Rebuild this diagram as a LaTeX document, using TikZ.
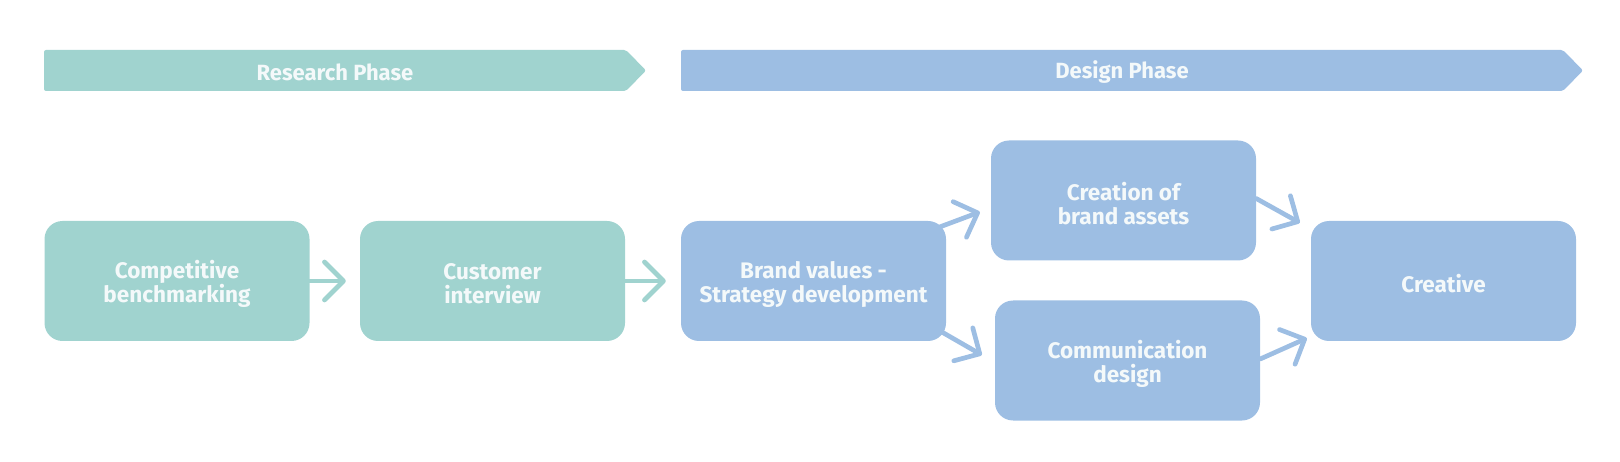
\documentclass[tikz,border=0pt]{standalone}
\usepackage{fontspec}
\setmainfont{Fira Sans}
\usetikzlibrary{arrows.meta}
\definecolor{teal}{RGB}{160,211,207}
\definecolor{blu}{RGB}{157,190,227}
\definecolor{txt}{RGB}{244,249,250}
\tikzset{
  box/.style={rectangle, rounded corners=18, minimum width=265, minimum height=120, inner sep=0pt},
  boxtext/.style={text=txt, font=\fontsize{22.5}{24}\selectfont\bfseries, align=center, inner sep=0pt, yshift=-3},
  tbox/.style={box, fill=teal},
  bbox/.style={box, fill=blu},
  arr/.style={line width=4.7, line cap=round, -{Straight Barb[length=19, width=38, round]}},
  banner/.style={rounded corners=2, draw=none},
  btext/.style={text=txt, font=\fontsize{22}{24}\selectfont\bfseries, inner sep=0pt},
}
\begin{document}
\begin{tikzpicture}[x=1pt, y=-1pt]
\useasboundingbox (0,0) rectangle (1620,462);
% banners
\fill[teal, banner] (44,50) -- (626,50) -- (646,70.5) -- (626,91) -- (44,91) -- cycle;
\fill[blu, banner] (681,50) -- (1563,50) -- (1583,70.5) -- (1563,91) -- (681,91) -- cycle;
\node[btext] (rp) at (335,72.5) {Research Phase};
\node[btext] (dp) at (1122,72.5) {Design Phase};
% boxes
\node[tbox, label={[boxtext]center:Competitive\\benchmarking}] (b1) at (177,281) {};
\node[tbox, label={[boxtext]center:Customer\\interview}] (b2) at (492.5,281) {};
\node[bbox, label={[boxtext]center:Brand values -\\Strategy development}] (b3) at (813.5,281) {};
\node[bbox, label={[boxtext]center:Creation of\\brand assets}] (b4) at (1123.5,200.5) {};
\node[bbox, label={[boxtext]center:Communication\\design}] (b5) at (1127.5,360.5) {};
\node[bbox, label={[boxtext]center:Creative}] (b6) at (1443.5,281) {};
% arrows
\draw[arr, teal] (b1.east) -- ([xshift=-14]b2.west);
\draw[arr, teal] (b2.east) -- ([xshift=-15]b3.west);
\draw[arr, blu] ([shift={(-6,6)}]b3.north east) -- ([shift={(-11,11.5)}]b4.west);
\draw[arr, blu] ([shift={(-4,-9)}]b3.south east) -- ([shift={(-13,-5.5)}]b5.west);
\draw[arr, blu] ([shift={(0,-2)}]b4.east) -- ([shift={(-11,2)}]b6.north west);
\draw[arr, blu] ([shift={(0,-1.5)}]b5.east) -- ([shift={(-4,-3)}]b6.south west);
\end{tikzpicture}
\end{document}
